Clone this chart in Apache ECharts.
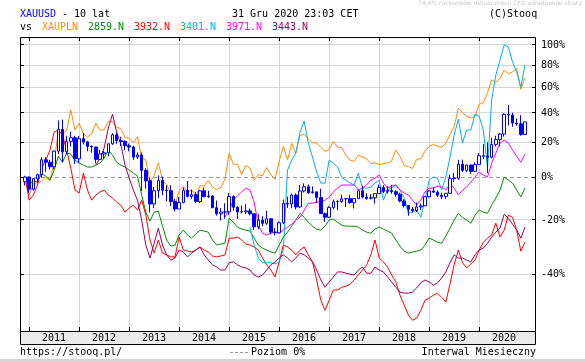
<!DOCTYPE html>
<html><head><meta charset="utf-8">
<script src="https://cdn.jsdelivr.net/npm/echarts@6/dist/echarts.min.js"></script>
<style>html,body{margin:0;padding:0;background:#fff;}#c{width:585px;height:362px;}</style>
</head><body><div id="c"></div>
<script>
// ---------- data ----------
const yearLabels = ['2011','2012','2013','2014','2015','2016','2017','2018','2019','2020'];
const yearStartIdx = [1,13,25,37,49,61,73,85,97,109];   // month index of January (index 0 = Dec 2010)
const yTickPct = [100,80,60,40,20,0,-20,-40];
const yTickLabels = ['100%','80%','60%','40%','20%','0%','-20%','-40%'];

// XAUUSD monthly OHLC, Dec 2010 .. Dec 2020
const gOpen = [1386,
1421,1333,1409,1439,1556,1536,1500,1628,1826,1623,1714,1747,
1564,1738,1709,1669,1664,1559,1604,1614,1692,1773,1719,1713,
1675,1663,1578,1596,1472,1393,1234,1323,1396,1326,1323,1250,
1202,1244,1326,1284,1296,1250,1322,1282,1287,1210,1172,1183,
1184,1283,1213,1183,1184,1190,1172,1095,1133,1115,1142,1065,
1061,1118,1238,1234,1293,1215,1321,1351,1309,1315,1277,1173,
1151,1211,1249,1249,1268,1269,1242,1269,1322,1280,1271,1275,
1303,1345,1318,1325,1316,1299,1253,1224,1201,1192,1215,1222,
1282,1321,1313,1292,1284,1305,1409,1413,1520,1472,1513,1464,
1517,1589,1585,1577,1687,1730,1781,1975,1967,1887,1879,1777];
const gClose = [1421,
1333,1409,1439,1556,1536,1500,1628,1826,1623,1714,1747,1564,
1738,1709,1669,1664,1559,1604,1614,1692,1773,1719,1713,1675,
1663,1578,1596,1472,1393,1234,1323,1396,1326,1323,1250,1202,
1244,1326,1284,1296,1250,1322,1282,1287,1210,1172,1183,1184,
1283,1213,1183,1184,1190,1172,1095,1133,1115,1142,1065,1061,
1118,1238,1234,1293,1215,1321,1351,1309,1315,1277,1173,1151,
1211,1249,1249,1268,1269,1242,1269,1322,1280,1271,1275,1303,
1345,1318,1325,1316,1299,1253,1224,1201,1192,1215,1222,1282,
1321,1313,1292,1284,1305,1409,1413,1520,1472,1513,1464,1517,
1589,1585,1577,1687,1730,1781,1975,1967,1887,1879,1777,1898];
const gHigh = [1431,
1424,1411,1447,1576,1577,1556,1633,1913,1921,1764,1803,1764,
1763,1791,1718,1677,1667,1641,1631,1694,1790,1796,1755,1723,
1694,1675,1617,1617,1488,1417,1349,1434,1424,1361,1361,1267,
1280,1345,1392,1331,1315,1326,1345,1323,1293,1256,1208,1239,
1307,1291,1219,1224,1232,1205,1175,1170,1157,1191,1142,1088,
1127,1263,1283,1304,1304,1362,1375,1367,1353,1316,1338,1180,
1220,1264,1261,1295,1272,1296,1270,1331,1357,1306,1299,1307,
1366,1362,1356,1365,1326,1309,1265,1224,1214,1243,1237,1284,
1326,1346,1325,1310,1306,1439,1453,1555,1557,1517,1516,1535,
1611,1689,1704,1747,1765,1789,1984,2075,1992,1933,1966,1900];
const gLow = [1360,
1309,1324,1380,1418,1462,1478,1480,1603,1535,1601,1668,1523,
1527,1688,1627,1614,1527,1553,1564,1583,1683,1692,1673,1636,
1627,1555,1562,1321,1337,1180,1208,1271,1292,1251,1221,1187,
1202,1238,1277,1268,1240,1240,1280,1273,1207,1161,1131,1142,
1167,1191,1142,1175,1170,1162,1077,1080,1098,1106,1053,1046,
1061,1111,1208,1207,1200,1208,1310,1301,1303,1241,1171,1123,
1146,1200,1195,1241,1214,1236,1205,1266,1271,1261,1264,1236,
1302,1307,1303,1302,1282,1245,1211,1160,1180,1183,1196,1221,
1276,1310,1280,1266,1267,1302,1382,1400,1459,1458,1445,1459,
1517,1563,1451,1567,1670,1671,1757,1863,1849,1860,1765,1776];

// comparison series, % change (monthly closes)
const xauplnPct = [0,
-9.0,-4.2,-2.8,-2.3,-0.3,-1.9,8.4,26.8,25.8,27.6,42.1,27.9,
32.6,25.6,23.4,25.4,32.7,27.8,28.2,34.0,33.6,29.6,29.1,23.1,
22.6,19.7,23.7,10.6,9.3,-2.3,0.7,7.9,-1.6,-3.8,-8.5,-14.0,
-6.8,-4.8,-7.5,-6.6,-9.7,-4.4,-4.6,-1.8,-5.1,-6.4,-5.2,-0.9,
13.2,7.0,6.9,1.3,6.4,4.8,-1.6,1.3,0.7,5.1,1.3,-1.1,
8.4,17.5,9.4,19.3,13.5,24.4,25.3,22.0,19.7,19.6,16.9,14.4,
15.5,20.6,17.0,16.7,12.2,9.3,8.6,12.2,11.1,10.0,7.3,7.8,
6.8,7.2,7.7,8.9,15.2,11.4,6.2,5.7,4.6,9.8,10.1,14.6,
17.5,18.6,17.6,16.9,19.5,25.0,30.3,43.5,40.3,37.4,36.4,37.1,
46.6,47.7,55.6,66.5,64.5,67.7,75.2,72.1,73.6,76.9,58.4,68.3];
const f2859Pct = [0,
-3.1,-2.6,-2.1,1.6,0.5,-1.6,3.7,11.6,8.1,13.4,12.8,9.3,
7.6,6.5,5.4,5.4,6.5,7.6,10.5,15.2,12.2,8.1,6.5,5.4,
3.7,2.1,0.5,-9.0,-16.8,-20.6,-16.8,-16.4,-22.7,-28.1,-30.4,-30.0,
-26.2,-24.3,-26.2,-27.4,-25.8,-24.3,-24.7,-25.1,-28.1,-30.0,-29.6,-29.3,
-19.4,-21.1,-23.1,-23.9,-24.3,-24.7,-27.4,-30.0,-31.1,-31.8,-32.5,-32.9,
-30.0,-27.0,-25.1,-22.7,-20.2,-17.3,-19.0,-21.1,-22.7,-23.9,-24.3,-22.7,
-20.2,-19.8,-21.1,-22.3,-22.7,-22.7,-22.7,-23.1,-24.3,-25.1,-25.5,-23.9,
-23.1,-23.9,-24.7,-25.5,-28.1,-30.4,-32.2,-32.9,-32.5,-32.2,-31.8,-30.0,
-27.4,-28.1,-28.9,-29.3,-26.6,-23.5,-20.2,-17.3,-19.0,-20.2,-21.5,-18.1,
-15.9,-16.8,-17.3,-13.7,-10.4,-6.6,0,-1.6,-3.1,-6.6,-9.9,-5.6];
const f3932Pct = [0,
-11.4,-9.0,-4.1,4.8,9.3,15.2,26.6,28.0,24.7,15.2,4.8,-6.6,
-8.0,2.1,-6.6,-11.4,-9.0,-7.5,-6.6,-9.0,-10.4,-12.3,-13.7,-16.8,
-15.0,-13.7,-15.9,-11.4,-18.1,-28.1,-32.9,-28.1,-32.9,-33.5,-34.2,-34.2,
-27.0,-31.8,-32.2,-32.5,-31.8,-30.7,-31.8,-32.5,-33.9,-34.2,-33.9,-33.5,
-27.4,-27.4,-27.0,-28.1,-29.6,-30.0,-30.7,-31.8,-34.6,-36.9,-38.6,-40.8,
-35.9,-30.0,-30.7,-31.8,-33.5,-31.8,-30.7,-33.5,-35.9,-41.7,-47.6,-50.3,
-47.6,-44.7,-44.7,-43.9,-43.6,-43.0,-41.7,-40.2,-38.6,-36.9,-33.5,-28.1,
-34.6,-35.9,-37.6,-40.2,-42.3,-46.2,-48.9,-51.5,-52.8,-52.3,-50.3,-47.6,
-47.0,-46.2,-45.6,-46.8,-48.1,-42.9,-36.9,-31.8,-36.2,-37.9,-36.6,-35.3,
-31.8,-29.0,-27.4,-26.2,-21.5,-27.0,-24.3,-18.1,-19.0,-24.3,-32.2,-28.9];
const f3401Start = 54;
const f3401Pct = [-23.1,-30.0,-34.6,-36.2,-36.2,-36.2,-36.6,
-35.9,-31.8,3.7,9.3,13.4,26.6,34.0,19.5,11.0,2.7,-3.1,-3.1,
9.3,7.6,5.4,0,-1.6,-3.1,-4.1,2.1,-5.6,-5.6,-5.1,-3.1,
-1.6,-11.4,-6.6,-5.6,-4.1,-6.6,-10.4,-17.3,-16.8,-15.9,-19.0,-11.4,
-1.6,0,-0.5,-6.6,0,11.0,24.7,35.6,19.5,28.0,28.0,39.1,
37.6,28.0,4.8,49.8,70.8,84.8,100,97.9,82.9,73.5,60.4,80.0];
const f3971Start = 48;
const f3971Pct = [-18.9,
-16.0,-11.4,-9.4,-7.5,-5.6,-6.6,-12.3,-22.3,-25.5,-26.2,-25.5,-25.1,
-25.5,-24.3,-23.1,-21.9,-20.2,-19.0,-16.0,-12.8,-12.8,-12.3,-12.3,-11.4,
-10.0,-7.5,-5.6,-4.1,-4.1,-4.1,-4.1,-6.6,-5.6,-4.1,-1.6,-0.5,
1.1,-3.1,-5.6,-4.6,-4.1,-6.6,-8.0,-9.0,-11.4,-13.7,-11.4,-7.5,
-5.6,-5.6,-4.6,-5.1,-6.6,-3.6,-5.6,-9.0,-6.6,-5.1,-2.6,0,
2.7,1.1,0,7.6,13.4,19.5,21.4,19.5,15.2,11.6,8.1,12.8];
const f3443Start = 17;
const f3443Pct = [6.5,10.5,16.5,29.3,39.1,26.6,18.9,6.5,
-0.5,-6.6,-11.4,-20.2,-30.0,-34.6,-29.3,-23.5,-30.0,-33.5,-35.3,-34.6,
-31.8,-32.5,-34.2,-32.9,-31.8,-30.7,-33.5,-35.3,-36.9,-37.6,-38.6,-38.6,
-36.2,-35.9,-36.9,-37.6,-37.9,-38.6,-40.2,-40.8,-40.2,-38.6,-36.9,-35.9,
-34.6,-33.5,-34.6,-35.9,-34.6,-32.9,-33.5,-34.6,-35.9,-38.6,-41.7,-43.9,
-42.3,-40.8,-39.2,-39.2,-39.6,-39.9,-40.2,-38.6,-37.6,-39.6,-39.6,-37.6,
-38.6,-39.2,-40.8,-42.3,-43.9,-45.3,-45.6,-45.6,-45.3,-44.1,-42.6,-41.7,
-42.3,-43.3,-42.6,-41.1,-39.2,-36.2,-33.5,-34.6,-34.6,-35.3,-35.9,-33.5,
-31.8,-31.1,-29.3,-27.0,-25.1,-23.5,-17.7,-19.4,-21.9,-24.3,-27.4,-23.1];

// ---------- chart ----------
const FONT = '10px "DejaVu Sans Mono", monospace';
const X_MIN = -1.2, X_MAX = 122.64, Y_MIN = 0.446, Y_MAX = 2.085;
const toRatio = p => 1 + p / 100;
function lineData(arr, start) {
  return arr.map((v, k) => [start + k, toRatio(v)]);
}
const base = gClose[0];
const candleData = gClose.map((c, i) => [i, gOpen[i] / base, c / base, gLow[i] / base, gHigh[i] / base]);
const crisp = v => Math.round(v - 0.5) + 0.5;

function renderYTick(params, api) {
  const k = params.dataIndex;
  const pt = api.coord([api.value(0), api.value(1)]);
  const cs = params.coordSys;
  const y = crisp(pt[1]);
  const x0 = cs.x, x1 = cs.x + cs.width;
  const zero = yTickPct[k] === 0;
  return { type: 'group', children: [
    { type: 'line', shape: { x1: x0, y1: y, x2: x1, y2: y },
      style: { stroke: zero ? '#999999' : '#d6d6d6', lineWidth: 1, lineDash: zero ? [4, 3] : null } },
    { type: 'line', shape: { x1: x0, y1: y, x2: x0 + 4, y2: y }, style: { stroke: '#000', lineWidth: 1 } },
    { type: 'line', shape: { x1: x1 - 4, y1: y, x2: x1, y2: y }, style: { stroke: '#000', lineWidth: 1 } },
    { type: 'text', x: x1 + 5, y: Math.round(pt[1]),
      style: { text: yTickLabels[k], fill: '#000', font: FONT, align: 'left', verticalAlign: 'middle',
               textAlign: 'left', textVerticalAlign: 'middle' } }
  ]};
}
function renderXTick(params, api) {
  const k = params.dataIndex;
  const cs = params.coordSys;
  const pt = api.coord([api.value(0), api.value(1)]);
  const x = crisp(pt[0]);
  const mid = api.coord([api.value(0) + 6, api.value(1)])[0];
  const yT = cs.y, yB = cs.y + cs.height;
  return { type: 'group', children: [
    { type: 'line', shape: { x1: x, y1: yT, x2: x, y2: yB }, style: { stroke: '#d6d6d6', lineWidth: 1 } },
    { type: 'line', shape: { x1: x, y1: yT, x2: x, y2: yT + 4 }, style: { stroke: '#000', lineWidth: 1 } },
    { type: 'line', shape: { x1: x, y1: yB - 4, x2: x, y2: yB }, style: { stroke: '#000', lineWidth: 1 } },
    { type: 'text', x: Math.round(mid), y: yB + 7,
      style: { text: yearLabels[k], fill: '#000', font: FONT, align: 'center', verticalAlign: 'middle',
               textAlign: 'center', textVerticalAlign: 'middle' } }
  ]};
}
function mkLine(name, data, color) {
  return { type: 'line', name, data, showSymbol: false, symbol: 'none', clip: true, z: 3,
    lineStyle: { color, width: 1 }, itemStyle: { color }, animation: false, silent: true };
}
function txt(text, x, y, color, align) {
  return { type: 'text', x, y, z: 100,
    style: { text, fill: color, font: FONT, align: align || 'left', verticalAlign: 'middle',
             textAlign: align || 'left', textVerticalAlign: 'middle' } };
}

const chart = echarts.init(document.getElementById('c'), null, { renderer: 'canvas' });
chart.setOption({
  animation: false,
  backgroundColor: '#ffffff',
  grid: { left: 20, top: 37, width: 516, height: 294, show: false, containLabel: false },
  xAxis: { type: 'value', min: X_MIN, max: X_MAX, show: false },
  yAxis: { type: 'log', logBase: 10, min: Y_MIN, max: Y_MAX, show: false },
  graphic: [
    { type: 'rect', z: -10, shape: { x: 20.5, y: 331.5, width: 515, height: 13 },
      style: { fill: '#ebebeb', stroke: '#000', lineWidth: 1 } },
    { type: 'rect', z: 60, shape: { x: 20.5, y: 37.5, width: 515, height: 294 },
      style: { fill: 'none', stroke: '#000', lineWidth: 1 } },
    txt('XAUUSD', 20, 14, '#0000ff'),
    txt('- 10 lat', 62, 14, '#000'),
    txt('31 Gru 2020 23:03 CET', 232, 14, '#000'),
    txt('(C)Stooq', 489, 14, '#000'),
    txt('vs', 20, 27, '#000'),
    txt('XAUPLN', 42, 27, '#ff8c00'),
    txt('2859.N', 88, 27, '#008c00'),
    txt('3932.N', 134, 27, '#ff0000'),
    txt('3401.N', 180, 27, '#00b0f0'),
    txt('3971.N', 226, 27, '#ff00ff'),
    txt('3443.N', 272, 27, '#990066'),
    txt('https://stooq.pl/', 20, 352, '#000'),
    { type: 'line', z: 100, shape: { x1: 230, y1: 352.5, x2: 248, y2: 352.5 },
      style: { stroke: '#999', lineWidth: 1, lineDash: [3, 2] } },
    txt('Poziom 0%', 251, 352, '#000'),
    txt('Interwal Miesieczny', 536, 352, '#000', 'right'),
    { type: 'text', x: 583, y: 3, z: 100,
      style: { text: '74,4% rachunków detalicznych CFD odnotowuje straty.', fill: '#c8c8c8',
               font: '6px "DejaVu Sans", sans-serif', align: 'right', verticalAlign: 'middle',
               textAlign: 'right', textVerticalAlign: 'middle' } },
    { type: 'rect', z: 100, shape: { x: 0, y: 359, width: 585, height: 3 }, style: { fill: '#d4d4d4' } }
  ],
  series: [
    { type: 'custom', coordinateSystem: 'cartesian2d', z: 1, silent: true, clip: false,
      data: yTickPct.map(p => [60, toRatio(p)]), encode: { x: 0, y: 1 }, renderItem: renderYTick },
    { type: 'custom', coordinateSystem: 'cartesian2d', z: 1, silent: true, clip: false,
      data: yearStartIdx.map(i => [i, Y_MIN]), encode: { x: 0, y: 1 }, renderItem: renderXTick },
    mkLine('XAUPLN', lineData(xauplnPct, 0), '#ff8c00'),
    mkLine('2859.N', lineData(f2859Pct, 0), '#008c00'),
    mkLine('3932.N', lineData(f3932Pct, 0), '#ff0000'),
    mkLine('3401.N', lineData(f3401Pct, f3401Start), '#00b0f0'),
    mkLine('3971.N', lineData(f3971Pct, f3971Start), '#ff00ff'),
    mkLine('3443.N', lineData(f3443Pct, f3443Start), '#990066'),
    { type: 'candlestick', name: 'XAUUSD', data: candleData, encode: { x: 0, y: [1, 2, 3, 4] },
      barWidth: 3, z: 5, silent: true, clip: true,
      itemStyle: { color: '#ffffff', color0: '#0000ff', borderColor: '#0000ff', borderColor0: '#0000ff', borderWidth: 1 } }
  ]
});
</script>
</body></html>
